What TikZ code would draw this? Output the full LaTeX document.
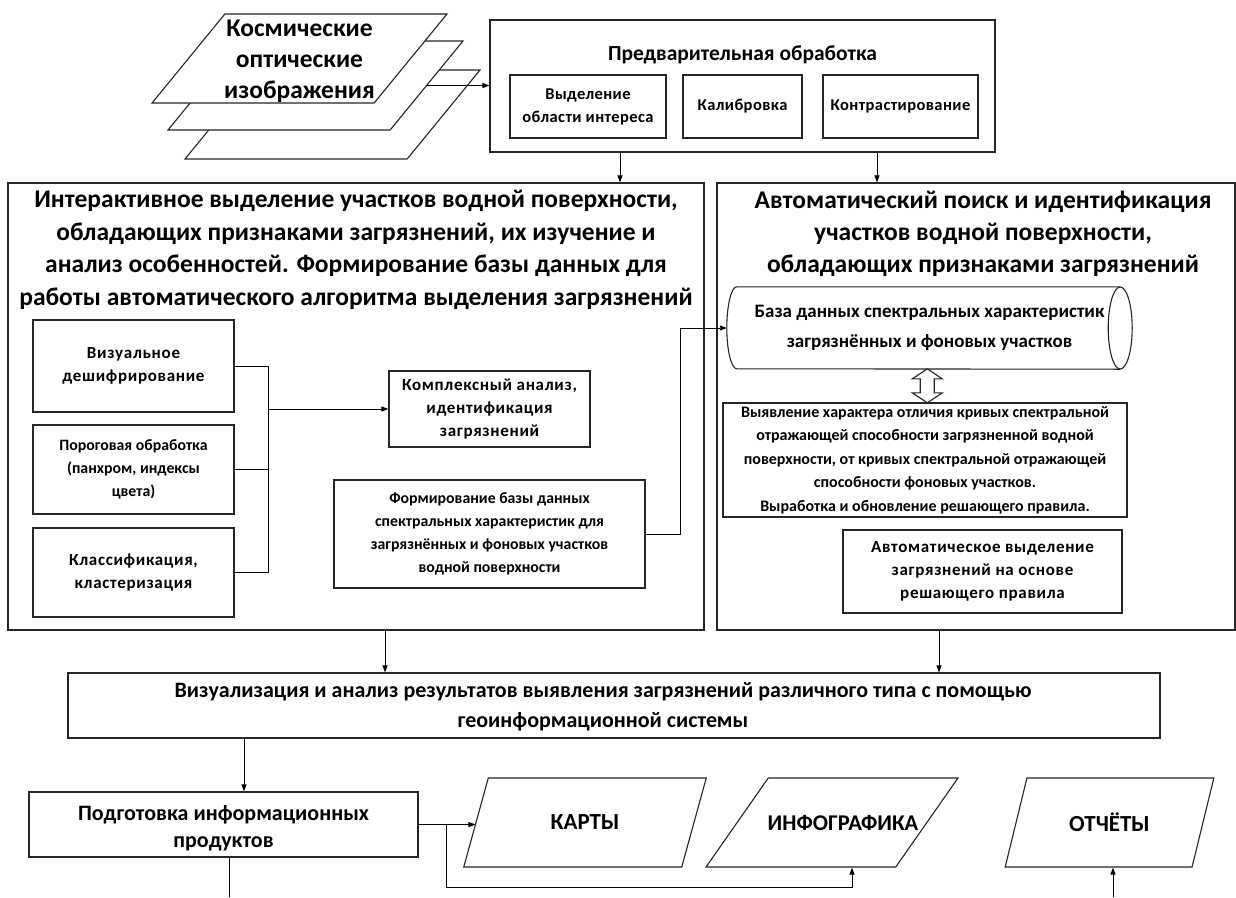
\documentclass[tikz,border=0pt]{standalone}
\usepackage{fontspec}
\setmainfont{Carlito}
\usetikzlibrary{shapes.geometric,arrows.meta,calc}
\newcommand\fsz[2]{\fontsize{#1}{#2}\selectfont}
\newcommand\spc{\addfontfeatures{LetterSpace=4}}
\begin{document}
\begin{tikzpicture}[x=1pt,y=-1pt,
  box/.style={draw=black!85,line width=1.1pt,fill=white,align=center,inner sep=2pt,font=\bfseries},
  para/.style={box,trapezium,trapezium left angle=64,trapezium right angle=116,trapezium stretches=true},
  lbl/.style={align=center,font=\bfseries,inner sep=0pt},
  arr/.style={-{Triangle[length=7pt,width=5pt]},line width=0.9pt,draw=black},
  ln/.style={line width=0.9pt,draw=black},
  outl/.style={line width=1.1pt,draw=black!85}]
\useasboundingbox[fill=white] (0,0) rectangle (1236,897);

% ---- input images
\node[para,minimum width=295,minimum height=89] (back) at (332.5,114.5) {};
\node[para,minimum width=295,minimum height=89] (mid) at (315.5,85.5) {};
\node[para,minimum width=295,minimum height=89] (front) at (299.5,58.5) {};
\node[lbl,font=\bfseries\fsz{25.5}{31}] (fronttxt) at ([yshift=-3pt]front.center) {Космические\\оптические\\изображения};

% ---- preprocessing
\node[box,minimum width=505,minimum height=132] (pre) at (742.5,86) {};
\node[lbl,font=\bfseries\fsz{21.5}{24}] (pretxt) at (742.5,55) {Предварительная обработка};
\node[box,minimum width=156,minimum height=63,font=\bfseries\fsz{16.5}{23}\addfontfeatures{LetterSpace=2.5}] (s1) at (588,106.5) {Выделение\\области интереса};
\node[box,minimum width=119,minimum height=63,font=\bfseries\fsz{16.5}{23}\addfontfeatures{LetterSpace=2.5}] (s2) at (742.5,106.5) {Калибровка};
\node[box,minimum width=155,minimum height=63,font=\bfseries\fsz{16.5}{23}\addfontfeatures{LetterSpace=2.5}] (s3) at (900.5,106.5) {Контрастирование};

% ---- big blocks
\node[box,minimum width=696,minimum height=447] (L) at (356,406.5) {};
\node[box,minimum width=518,minimum height=447] (R) at (976,406.5) {};
\node[lbl,font=\bfseries\fsz{25.5}{32.5}] (ltitle) at (356,250) {Интерактивное выделение участков водной поверхности,\\обладающих признаками загрязнений, их изучение и\\анализ особенностей. Формирование базы данных для\\работы автоматического алгоритма выделения загрязнений};
\node[lbl,font=\bfseries\fsz{25.5}{32}] (rtitle) at (983,234) {Автоматический поиск и идентификация\\участков водной поверхности,\\обладающих признаками загрязнений};

% left block content
\node[box,minimum width=201,minimum height=92,font=\bfseries\fsz{17}{23}\spc] (vis) at (133.5,366) {Визуальное\\дешифрирование};
\node[box,minimum width=201,minimum height=89,font=\bfseries\fsz{15.8}{23}] (por) at (133.5,469.5) {Пороговая обработка\\(панхром, индексы\\цвета)};
\node[box,minimum width=201,minimum height=89,font=\bfseries\fsz{17}{23}\spc] (kla) at (133.5,572.5) {Классификация,\\кластеризация};
\node[box,minimum width=201,minimum height=76,font=\bfseries\fsz{17}{23}\spc] (kom) at (489.5,409) {Комплексный анализ,\\идентификация\\загрязнений};
\node[box,minimum width=311,minimum height=108,font=\bfseries\fsz{15.8}{23}] (form) at (489.5,534) {Формирование базы данных\\спектральных характеристик для\\загрязнённых и фоновых участков\\водной поверхности};

% right block content
\node[lbl,minimum width=405,minimum height=82,font=\bfseries\fsz{19}{30}] (cyl) at (929.5,328) {База данных спектральных характеристик\\загрязнённых и фоновых участков};
\draw[outl] ([xshift=-12pt]cyl.north east) -- ([xshift=10pt]cyl.north west)
  arc[start angle=90,end angle=270,x radius=10pt,y radius=41pt] -- ([xshift=-12pt]cyl.south east);
\draw[outl] ([xshift=-12pt]cyl.east) ellipse [x radius=12pt,y radius=41pt];
\node[box,inner sep=0pt,minimum width=404,minimum height=114,font=\bfseries\fsz{16}{23.5}] (vyy) at (925,460) {Выявление характера отличия кривых спектральной\\отражающей способности загрязненной водной\\поверхности, от кривых спектральной отражающей\\способности фоновых участков.\\Выработка и обновление решающего правила.};
\node[box,minimum width=279,minimum height=83,font=\bfseries\fsz{17}{23}\spc] (avt) at (982.5,571.5) {Автоматическое выделение\\загрязнений на основе\\решающего правила};

% ---- lower part
\node[box,minimum width=1092,minimum height=65] (viz) at (614,705.5) {};
\node[lbl,font=\bfseries\fsz{22}{30}] (viztxt) at (603,707) {Визуализация и анализ результатов выявления загрязнений различного типа с помощью\\геоинформационной системы};
\node[box,minimum width=389,minimum height=65] (podg) at (223.5,824.5) {};
\node[lbl,font=\bfseries\fsz{22}{27}] (podgtxt) at (223.5,828) {Подготовка информационных\\продуктов};
\node[para,minimum width=244,minimum height=89,font=\bfseries\fsz{23}{24}] (karty) at (585,822.5) {КАРТЫ};
\node[para,minimum width=252,minimum height=89] (info) at (832,822.5) {};
\node[lbl,font=\bfseries\fsz{22.5}{24}] (infotxt) at ([xshift=11pt]info.center) {ИНФОГРАФИКА};
\node[para,minimum width=209,minimum height=89,font=\bfseries\fsz{23}{24}] (otch) at (1109.5,822.5) {ОТЧЁТЫ};

% ---- helper coordinates
\coordinate (cA) at (620,0);
\coordinate (cB) at (877,0);
\coordinate (cC) at (268,0);
\coordinate (cD) at (680,0);
\coordinate (cE) at (385,0);
\coordinate (cF) at (939,0);
\coordinate (cG) at (244,0);
\coordinate (cH) at (446,0);
\coordinate (cI) at (852,0);
\coordinate (cJ) at (229,0);
\coordinate (cK) at (1113,0);
\coordinate (bot) at (0,897);
\coordinate (low) at (0,887);

% ---- connectors
\draw[arr] (mid.east) -- (mid.east -| pre.west);
\draw[arr] (pre.south -| cA) -- (L.north -| cA);
\draw[arr] (pre.south -| cB) -- (R.north -| cB);
\draw[ln] (vis.east) -- (vis.east -| cC) -- (kla.east -| cC) -- (kla.east);
\draw[ln] (por.east) -- (por.east -| cC);
\draw[arr] (kom.west -| cC) -- (kom.west);
\draw[arr] (form.east) -- (form.east -| cD) -- (cD |- cyl.west) -- (cyl.west);
\coordinate (dac) at ($(cyl.south)!0.5!(vyy.north)$);
\draw[outl,fill=white] ([shift={(0,-17)}]dac) -- ++(15,10) -- ++(-8,0) -- ++(0,14) -- ++(8,0)
  -- ++(-15,10) -- ++(-15,-10) -- ++(8,0) -- ++(0,-14) -- ++(-8,0) -- cycle;
\draw[arr] (L.south -| cE) -- (viz.north -| cE);
\draw[arr] (R.south -| cF) -- (viz.north -| cF);
\draw[arr] (viz.south -| cG) -- (podg.north -| cG);
\draw[arr] (podg.east) -- (podg.east -| karty.west);
\draw[arr] (podg.east -| cH) -- (cH |- low) -- (cI |- low) -- (cI |- info.south);
\draw[ln] (podg.south -| cJ) -- (cJ |- bot);
\draw[arr] (cK |- bot) -- (cK |- otch.south);
\end{tikzpicture}
\end{document}
